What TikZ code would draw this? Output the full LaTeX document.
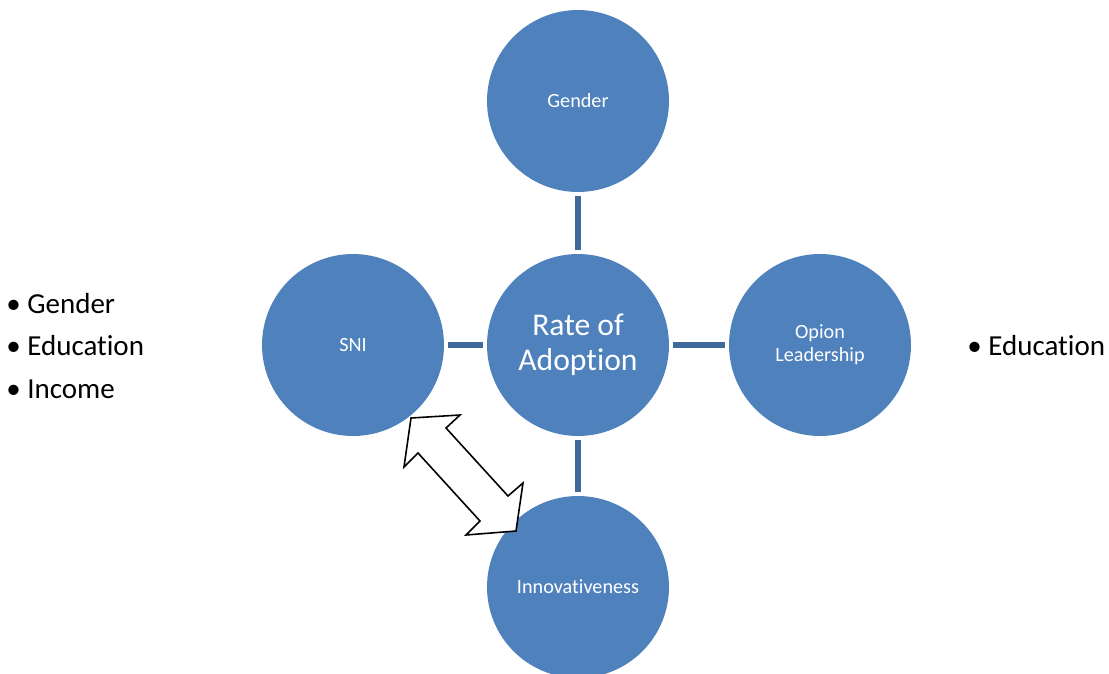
\documentclass[tikz,border=0pt]{standalone}
\usepackage{fontspec}
\setmainfont{Carlito}[Ligatures=NoCommon]
\begin{document}
\begin{tikzpicture}[x=0.02cm, y=-0.02cm]
    % Colours of the bubbles and their links
    \definecolor{bubbleblue}{RGB}{79, 129, 189}
    \definecolor{linkblue}{RGB}{64, 106, 155}
    \tikzset{
        bubble/.style={circle, fill=bubbleblue, minimum size=3.64cm, inner sep=0pt,
            text=white, align=center, font=\fontsize{11.5}{13}\selectfont},
        link/.style={linkblue, line width=3.4pt, shorten >=0.08cm, shorten <=0.08cm},
        listitem/.style={anchor=west, inner sep=0pt, font=\fontsize{16.5}{20}\selectfont}
    }

    % Page frame
    \useasboundingbox (0,0) rectangle (1109,673);
    \clip (0,0) rectangle (1109,673);

    % Bubbles
    \node[bubble] (gender) at (578, 101) {Gender};
    \node[bubble, font=\fontsize{18}{20}\selectfont] (rate) at (578, 345) {Rate of\\Adoption};
    \node[bubble] (sni) at (353, 345) {SNI};
    \node[bubble] (opion) at (820, 345) {Opion\\Leadership};
    \node[bubble] (innov) at (578, 587) {Innovativeness};

    % Links to the centre
    \draw[link] (gender) -- (rate);
    \draw[link] (sni) -- (rate);
    \draw[link] (rate) -- (opion);
    \draw[link] (rate) -- (innov);

    % Block arrow between SNI and Innovativeness
    \draw[line width=0.9pt, fill=white, line join=miter]
        (411, 418) -- (460, 415) -- (446, 428) -- (508, 496) -- (523, 483)
        -- (516, 531) -- (466, 535) -- (480, 521) -- (418, 453) -- (404, 467) -- cycle;

    % Bullet lists
    \node[listitem] (lgender) at (6, 304) {\textbullet\ Gender};
    \node[listitem] (leduc) at (6, 346) {\textbullet\ Education};
    \node[listitem] (lincome) at (6, 389) {\textbullet\ Income};
    \node[listitem] (reduc) at (967, 346) {\textbullet\ Education};

\end{tikzpicture}
\end{document}
